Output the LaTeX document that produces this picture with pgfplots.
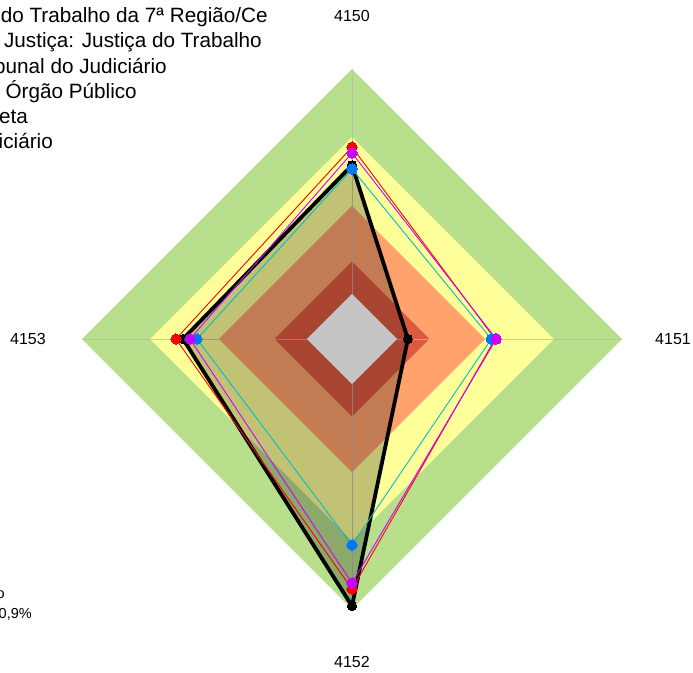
\documentclass[border=0pt]{standalone}
\usepackage{pgfplots}
\pgfplotsset{compat=1.18}
\usepackage{fontspec}
\setmainfont{Liberation Sans}
\definecolor{cgreen}{RGB}{183,223,140}
\definecolor{cyellow}{RGB}{255,255,153}
\definecolor{corange}{RGB}{255,162,108}
\definecolor{cdred}{RGB}{221,90,63}
\definecolor{cgray}{RGB}{197,197,197}
\definecolor{cred}{RGB}{255,0,0}
\definecolor{cmag}{RGB}{204,0,255}
\definecolor{cblue}{RGB}{0,120,255}
\definecolor{ccyan}{RGB}{0,190,200}
\definecolor{cgrid}{RGB}{185,185,185}
\begin{document}
\begin{tikzpicture}
\useasboundingbox (0,0) rectangle (693bp,673bp);
\begin{axis}[
  at={(0,0)}, anchor=south west,
  x=2.7bp, y=2.7bp,
  xmin=-130.37, xmax=126.30, ymin=-123.70, ymax=125.56,
  hide axis,
]
% background bands
\addplot[draw=none, fill=cgreen] coordinates {(0,100) (100,0) (0,-100) (-100,0)} -- cycle;
\addplot[draw=none, fill=cyellow] coordinates {(0,74.8) (74.8,0) (0,-74.8) (-74.8,0)} -- cycle;
\addplot[draw=none, fill=corange] coordinates {(0,49.3) (49.3,0) (0,-49.3) (-49.3,0)} -- cycle;
\addplot[draw=none, fill=cdred] coordinates {(0,28.7) (28.7,0) (0,-28.7) (-28.7,0)} -- cycle;
% grid lines
\addplot[cgrid, line width=1bp, opacity=0.8] coordinates {(0,-100) (0,100)};
\addplot[cgrid, line width=1bp, opacity=0.8] coordinates {(-100,0) (100,0)};
% overlay of the black series
\addplot[draw=none, fill=black, fill opacity=0.24] coordinates {(0,64.4) (20.7,0) (0,-98.9) (-62.6,0)} -- cycle;
\addplot[draw=none, fill=cgray] coordinates {(0,16.7) (16.7,0) (0,-16.7) (-16.7,0)} -- cycle;
% series
\addplot[black, line width=3.8bp, line join=miter, mark=*, mark size=4.5bp, mark options={solid, fill=black, line width=0pt}]
  coordinates {(0,64.4) (20.7,0) (0,-98.9) (-62.6,0)} -- cycle;
\addplot[cred, line width=0.9bp, mark=*, mark size=5.2bp, mark options={fill=cred, draw=cred, line width=0pt}]
  coordinates {(0,71.1) (53.0,0) (0,-92.6) (-65.2,0)} -- cycle;
\addplot[ccyan, line width=0.9bp, mark=*, mark size=5.2bp, mark options={fill=cblue, draw=cblue, line width=0pt}]
  coordinates {(0,63.0) (51.6,0) (0,-76.3) (-57.4,0)} -- cycle;
\addplot[cmag, line width=0.9bp, mark=*, mark size=5.2bp, mark options={fill=cmag, draw=cmag, line width=0pt}]
  coordinates {(0,68.9) (53.4,0) (0,-90.4) (-60.0,0)} -- cycle;
\end{axis}
\begin{scope}
\clip (0,0) rectangle (693bp,673bp);
% axis labels
\begin{scope}[every node/.style={font=\fontsize{16bp}{19bp}\selectfont, inner sep=0pt}]
\node at (352bp,657bp) {4150};
\node at (673bp,334bp) {4151};
\node at (352bp,11bp) {4152};
\node at (28bp,334bp) {4153};
\end{scope}
% legend (cut off at the left edge)
\begin{scope}[every node/.style={font=\fontsize{20.7bp}{25bp}\selectfont, inner sep=0pt, anchor=base east}]
\node at (268bp,650.5bp) {Tribunal Regional do Trabalho da 7ª Região/Ce};
\node at (262bp,625.2bp) {Segmento de Justiça: Justiça do Trabalho};
\node at (167bp,599.9bp) {Média Tribunal do Judiciário};
\node at (137bp,574.6bp) {Média Órgão Público};
\node at (28bp,549.3bp) {Meta};
\node at (53bp,524bp) {Judiciário};
\end{scope}
\begin{scope}[every node/.style={font=\fontsize{14.5bp}{18bp}\selectfont, inner sep=0pt, anchor=base east}]
\node at (5bp,74bp) {Índice de Desempenho};
\node at (32bp,54bp) {Resultado: 90,9\%};
\end{scope}
\end{scope}
\end{tikzpicture}
\end{document}
